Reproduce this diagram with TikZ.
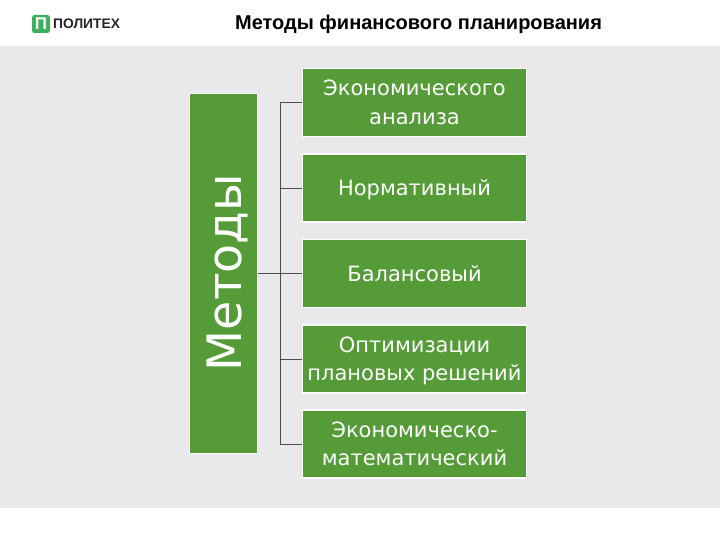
\documentclass[tikz,border=0pt]{standalone}
\usepackage{fontspec}
\setmainfont{Liberation Sans}
\newfontfamily\dvs{DejaVu Sans}
\newcommand{\lowertext}[1]{\raisebox{-2pt}[\height][\depth]{#1}}
\definecolor{bandgray}{HTML}{E9E9EB}
\definecolor{boxgreen}{HTML}{559B37}
\definecolor{logogreen}{HTML}{3FAF5F}
\definecolor{linegray}{HTML}{4A4F48}
\tikzset{
  x=1pt,y=-1pt,
  method/.style={draw=white,line width=1.2pt,fill=boxgreen,text=white,minimum width=224pt,minimum height=68pt,inner sep=0pt,align=center,font=\dvs\fontsize{21}{28.5}\selectfont},
  link/.style={draw=linegray,line width=0.8pt},
}
\begin{document}
\begin{tikzpicture}
\useasboundingbox (0,0) rectangle (720,540);
\fill[white] (0,0) rectangle (720,540);
\fill[bandgray] (0,46) rectangle (720,508);
\node[font=\bfseries\fontsize{20}{22}\selectfont,anchor=center] (title) at (418.5,24) {Методы финансового планирования};
\node[fill=logogreen,rounded corners=2.5pt,minimum width=18pt,minimum height=18pt,inner sep=0pt,text=white,font=\bfseries\fontsize{17}{17}\selectfont] (logo) at (41,24) {П};
\node[anchor=west,inner sep=0pt,font=\bfseries\fontsize{13.8}{14}\selectfont,text=black!85] (brand) at (53,24) {ПОЛИТЕХ};
\node[method,minimum width=68pt,minimum height=360pt] (root) at (223.5,273.5) {};
\node[text=white,rotate=90,inner sep=0pt,font=\dvs\fontsize{47.5}{50}\selectfont] (rootlabel) at (227,272.5) {Методы};
\node[method] (m1) at (414.5,102.5) {Экономического\\анализа};
\node[method] (m2) at (414.5,188) {\lowertext{Нормативный}};
\node[method] (m3) at (414.5,273.5) {Балансовый};
\node[method] (m4) at (414.5,359) {\lowertext{Оптимизации}\\\lowertext{плановых решений}};
\node[method] (m5) at (414.5,444) {Экономическо-\\математический};
\coordinate (trunk) at (280,273.5);
\draw[link] (root.east) -- (m3.west);
\draw[link] (m1.west) -| (trunk);
\draw[link] (m2.west) -| (trunk);
\draw[link] (m4.west) -| (trunk);
\draw[link] (m5.west) -| (trunk);
\end{tikzpicture}
\end{document}
